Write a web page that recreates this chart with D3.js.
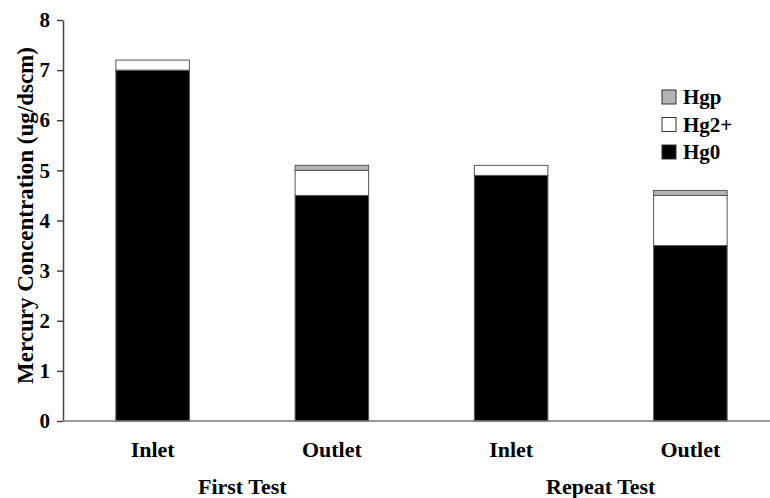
<!DOCTYPE html>
<html>
<head>
<meta charset="utf-8">
<script src="https://cdn.jsdelivr.net/npm/d3@7"></script>
<style>
  body { margin: 0; background: #fff; }
  text { font-family: "Liberation Serif", "Times New Roman", serif; font-weight: bold; }
</style>
</head>
<body>
<div id="chart"></div>
<script>
// data
const categories = ["Inlet", "Outlet", "Inlet", "Outlet"];
const groups = ["First Test", "Repeat Test"];
const hg0 = [7.0, 4.5, 4.9, 3.5];
const hg2 = [0.2, 0.5, 0.2, 1.0];
const hgp = [0.0, 0.1, 0.0, 0.1];
const yTicks = [0, 1, 2, 3, 4, 5, 6, 7, 8];
const seriesNames = ["Hg0", "Hg2+", "Hgp"];
const seriesColors = ["#000000", "#ffffff", "#b3b3b3"];

const width = 770, height = 498;
const margin = { top: 20, right: -10, bottom: 77, left: 63 };

const svg = d3.select("#chart").append("svg")
  .attr("width", width).attr("height", height);

const x = d3.scaleBand()
  .domain(d3.range(categories.length))
  .range([margin.left, width - margin.right])
  .paddingInner(0.59).paddingOuter(0.295);

const y = d3.scaleLinear().domain([0, 8])
  .range([height - margin.bottom, margin.top]);

// stack
const rows = categories.map((c, i) => ({ i, "Hg0": hg0[i], "Hg2+": hg2[i], "Hgp": hgp[i] }));
const stacked = d3.stack().keys(seriesNames)(rows);

svg.append("g")
  .selectAll("g")
  .data(stacked)
  .join("g")
  .attr("fill", (d, i) => seriesColors[i])
  .selectAll("rect")
  .data(d => d.filter(s => s[1] - s[0] > 0))
  .join("rect")
  .attr("x", d => x(d.data.i))
  .attr("width", x.bandwidth())
  .attr("y", d => y(d[1]))
  .attr("height", d => y(d[0]) - y(d[1]))
  .attr("stroke", "#555")
  .attr("stroke-width", 1);

// y axis
const yAxis = svg.append("g")
  .attr("transform", `translate(${margin.left},0)`)
  .call(d3.axisLeft(y).tickValues(yTicks).tickSize(6).tickSizeOuter(0).tickPadding(7));
yAxis.select(".domain").attr("stroke", "#444").attr("stroke-width", 1.5);
yAxis.selectAll(".tick line").attr("stroke", "#444").attr("stroke-width", 1.5);
yAxis.selectAll(".tick text").attr("font-size", 21).attr("fill", "#000")
  .style("font-family", "Liberation Serif").style("font-weight", "bold");

// x axis line
svg.append("line")
  .attr("x1", margin.left).attr("x2", width)
  .attr("y1", y(0)).attr("y2", y(0))
  .attr("stroke", "#777").attr("stroke-width", 1.5);

// category labels
svg.append("g").selectAll("text")
  .data(categories)
  .join("text")
  .attr("x", (d, i) => x(i) + x.bandwidth() / 2)
  .attr("y", 457)
  .attr("text-anchor", "middle")
  .attr("font-size", 22)
  .text(d => d);

// group labels
svg.append("g").selectAll("text")
  .data(groups)
  .join("text")
  .attr("x", (d, i) => (x(i * 2) + x(i * 2 + 1) + x.bandwidth()) / 2)
  .attr("y", 494)
  .attr("text-anchor", "middle")
  .attr("font-size", 22)
  .text(d => d);

// y label
svg.append("text")
  .attr("transform", `translate(33,${(y(0) + y(8)) / 2 - 5}) rotate(-90)`)
  .attr("text-anchor", "middle")
  .attr("font-size", 23)
  .text("Mercury Concentration (ug/dscm)");

// legend (top to bottom: Hgp, Hg2+, Hg0)
const legendItems = seriesNames.map((n, i) => ({ n, c: seriesColors[i] })).reverse();
const legend = svg.append("g").attr("transform", "translate(662,90)");
legend.selectAll("rect")
  .data(legendItems)
  .join("rect")
  .attr("x", 0)
  .attr("y", (d, i) => i * 27.5)
  .attr("width", 14).attr("height", 14)
  .attr("fill", d => d.c)
  .attr("stroke", "#333").attr("stroke-width", 1);
legend.selectAll("text")
  .data(legendItems)
  .join("text")
  .attr("x", 21)
  .attr("y", (d, i) => i * 27.5 + 14)
  .attr("font-size", 21)
  .text(d => d.n);
</script>
</body>
</html>
